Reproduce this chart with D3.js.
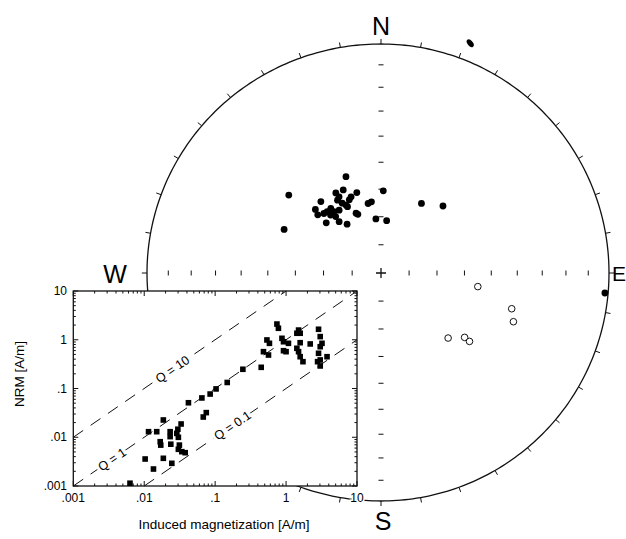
<!DOCTYPE html>
<html>
<head>
<meta charset="utf-8">
<script src="https://cdn.jsdelivr.net/npm/d3@7"></script>
<style>
body { margin: 0; background: #fff; }
svg { display: block; font-family: "Liberation Sans", Arial, sans-serif; }
</style>
</head>
<body>
<svg id="chart" width="626" height="539"></svg>
<script>
// stereonet directions, lower hemisphere (filled dots)
var lowerDec = [340.4, 310.8, 294.7, 1.6, 30.3, 42.9, 354.7, 6.2, 349.7, 352.5, 343.6, 331.1,
                320.5, 314.7, 313.2, 313.1, 321.4, 325.8, 337.8, 338.9, 339, 337, 331.7, 329.7,
                333.2, 333.7, 322.7, 319.3, 323.1, 319.6, 321.8, 316.8, 326.9, 331.5, 336, 95.1];
var lowerInc = [53.2, 46.8, 52.4, 60.6, 61.2, 57.2, 70.7, 71.3, 64.8, 64.4, 60.0, 57.2,
                56.8, 57.6, 59.6, 63.8, 66.6, 69.0, 67.0, 67.6, 60.8, 61.6, 59.0, 59.8,
                62.8, 63.6, 61.0, 61.1, 62.6, 62.8, 64.4, 60.8, 63.2, 61.6, 57.4, 1.6];
// upper hemisphere (open circles)
var upperDec = [98.0, 105.3, 110.2, 134.1, 127.6, 127.7];
var upperInc = [-54.7, -40.3, -38.1, -56.3, -51.8, -49.4];
// stray mark just outside the primitive circle
var strayDec = [21.3];
var strayR = [1.077];

var compass = ["N", "E", "S", "W"];

// inset: NRM vs induced magnetization [A/m]
var induced = [0.743, 0.78, 1.50, 1.58, 1.42, 2.87, 0.537, 0.583, 0.875, 0.92,
               1.08, 1.58, 2.19, 3.03, 3.21, 3.03, 0.48, 0.565, 0.92, 1.0,
               1.42, 1.50, 1.58, 1.73, 2.87, 3.03, 2.78, 3.78, 3.03,
               0.246, 0.446, 0.148, 0.103, 0.085, 0.065, 0.042, 0.075, 0.068,
               0.0186, 0.0115, 0.015, 0.0331, 0.0298, 0.0232, 0.0232, 0.0288, 0.0303, 0.0168,
               0.0171, 0.0237, 0.0313, 0.0303, 0.0339, 0.0378, 0.0103, 0.0186, 0.0245, 0.0135, 0.0063];
var nrm = [2.10, 1.72, 1.58, 1.36, 1.36, 1.64, 0.99, 0.845, 1.07, 0.91,
           0.845, 0.87, 0.82, 1.16, 0.845, 0.72, 0.569, 0.486, 0.596, 0.569,
           0.668, 0.569, 0.449, 0.355, 0.527, 0.385, 0.355, 0.449, 0.29,
           0.248, 0.272, 0.133, 0.098, 0.077, 0.064, 0.051, 0.032, 0.026,
           0.0226, 0.013, 0.013, 0.0187, 0.0146, 0.013, 0.0103, 0.012, 0.00997, 0.0081,
           0.0069, 0.0072, 0.0069, 0.00566, 0.00506, 0.00482, 0.00358, 0.0037, 0.00292, 0.00223, 0.00114];
var qValues = [10, 1, 0.1];
var qLabels = ["Q = 10", "Q = 1", "Q = 0.1"];
var qLabelAt = [0.025, 0.0035, 0.175];
var decadeTicks = [0.001, 0.01, 0.1, 1, 10];
var decadeLabels = [".001", ".01", ".1", "1", "10"];

var svg = d3.select("#chart");
var rad = Math.PI / 180;

// projected unit disc -> page
var sx = d3.scaleLinear().domain([-1, 0, 1]).range([147, 381, 609]);
var sy = d3.scaleLinear().domain([-1, 0, 1]).range([501, 273, 44]);

//equal-area (Schmidt) projection
function eqArea(dec, inc) {
    var r = Math.SQRT2 * Math.sin((90 - Math.abs(inc)) / 2 * rad);
    return [r * Math.sin(dec * rad), r * Math.cos(dec * rad)];
}
function proj(p) { return [sx(p[0]), sy(p[1])]; }

var net = svg.append("g");

// primitive circle
var circlePts = d3.range(0, 361, 1).map(function(a) {
    return proj([Math.sin(a * rad), Math.cos(a * rad)]);
});
net.append("path")
    .attr("d", d3.line()(circlePts))
    .attr("fill", "none")
    .attr("stroke", "#111")
    .attr("stroke-width", 1.3);

// ticks every 10 degrees on the circle, pointing out
net.selectAll(".ctick")
    .data(d3.range(0, 360, 10))
    .enter()
    .append("line")
    .attr("x1", function(a) { return sx(Math.sin(a * rad)); })
    .attr("y1", function(a) { return sy(Math.cos(a * rad)); })
    .attr("x2", function(a) { return sx(1.022 * Math.sin(a * rad)); })
    .attr("y2", function(a) { return sy(1.022 * Math.cos(a * rad)); })
    .attr("stroke", "#111")
    .attr("stroke-width", 1);

// inclination ticks along the N-S and E-W diameters
var axisTicks = [];
[0, 90, 180, 270].forEach(function(az) {
    d3.range(10, 90, 10).forEach(function(inc) {
        axisTicks.push({ az: az, p: proj(eqArea(az, inc)) });
    });
});
net.selectAll(".atick")
    .data(axisTicks)
    .enter()
    .append("line")
    .attr("x1", function(d) { return d.az % 180 === 0 ? d.p[0] - 2.5 : d.p[0]; })
    .attr("x2", function(d) { return d.az % 180 === 0 ? d.p[0] + 2.5 : d.p[0]; })
    .attr("y1", function(d) { return d.az % 180 === 0 ? d.p[1] : d.p[1] - 2.5; })
    .attr("y2", function(d) { return d.az % 180 === 0 ? d.p[1] : d.p[1] + 2.5; })
    .attr("stroke", "#111")
    .attr("stroke-width", 1);

// centre cross
net.append("path")
    .attr("d", "M" + (sx(0) - 5) + "," + sy(0) + "H" + (sx(0) + 5) +
               "M" + sx(0) + "," + (sy(0) - 5) + "V" + (sy(0) + 5))
    .attr("stroke", "#111")
    .attr("stroke-width", 1.3);

// compass letters
var compassPos = [[381, 35, "middle", 25], [612, 281, "start", 21], [383, 530, "middle", 25], [115, 283, "middle", 25]];
net.selectAll(".compass")
    .data(compass)
    .enter()
    .append("text")
    .attr("x", function(d, i) { return compassPos[i][0]; })
    .attr("y", function(d, i) { return compassPos[i][1]; })
    .attr("text-anchor", function(d, i) { return compassPos[i][2]; })
    .style("font-size", function(d, i) { return compassPos[i][3] + "px"; })
    .attr("fill", "#000")
    .text(function(d) { return d; });

// lower hemisphere points
net.selectAll(".low")
    .data(lowerDec)
    .enter()
    .append("circle")
    .attr("cx", function(d, i) { return proj(eqArea(d, lowerInc[i]))[0]; })
    .attr("cy", function(d, i) { return proj(eqArea(d, lowerInc[i]))[1]; })
    .attr("r", 3.4)
    .attr("fill", "#000");

// upper hemisphere points
net.selectAll(".up")
    .data(upperDec)
    .enter()
    .append("circle")
    .attr("cx", function(d, i) { return proj(eqArea(d, upperInc[i]))[0]; })
    .attr("cy", function(d, i) { return proj(eqArea(d, upperInc[i]))[1]; })
    .attr("r", 3.3)
    .attr("fill", "#fff")
    .attr("stroke", "#111")
    .attr("stroke-width", 1);

net.selectAll(".stray")
    .data(strayDec)
    .enter()
    .append("ellipse")
    .attr("transform", function(d, i) {
        var p = proj([strayR[i] * Math.sin(d * rad), strayR[i] * Math.cos(d * rad)]);
        return "translate(" + p[0] + "," + p[1] + ") rotate(50)";
    })
    .attr("rx", 4.5)
    .attr("ry", 2.6)
    .attr("fill", "#000");

// ---- inset ----
var xL = d3.scaleLog().domain([0.001, 10]).range([73.3, 357]);
var yL = d3.scaleLog().domain([0.001, 10]).range([486, 291]);

var inset = svg.append("g");
inset.append("rect")
    .attr("x", xL.range()[0])
    .attr("y", yL.range()[1])
    .attr("width", xL.range()[1] - xL.range()[0])
    .attr("height", yL.range()[0] - yL.range()[1])
    .attr("fill", "#fff")
    .attr("stroke", "#111")
    .attr("stroke-width", 1.3);

// log ticks, inward on all sides
var logTicks = [];
decadeTicks.slice(0, 4).forEach(function(d) {
    d3.range(1, 10).forEach(function(k) { logTicks.push({ v: d * k, major: k === 1 }); });
});
logTicks.push({ v: 10, major: true });

function tickLen(d) { return d.major ? 5 : 2.5; }
var x0 = xL.range()[0], x1 = xL.range()[1], y0 = yL.range()[0], y1 = yL.range()[1];
var tickPaths = logTicks.map(function(d) {
    var x = xL(d.v), y = yL(d.v), L = tickLen(d);
    return "M" + x + "," + y0 + "V" + (y0 - L) +
           "M" + x + "," + y1 + "V" + (y1 + L) +
           "M" + x0 + "," + y + "H" + (x0 + L) +
           "M" + x1 + "," + y + "H" + (x1 - L);
});
inset.append("path")
    .attr("d", tickPaths.join(""))
    .attr("stroke", "#111")
    .attr("stroke-width", 1)
    .attr("fill", "none");

// Q lines
inset.selectAll(".qline")
    .data(qValues)
    .enter()
    .append("path")
    .attr("d", function(q) {
        var a = Math.max(0.001, 0.001 / q), b = Math.min(10, 10 / q);
        return d3.line()([[xL(a), yL(q * a)], [xL(b), yL(q * b)]]);
    })
    .attr("stroke", "#111")
    .attr("stroke-width", 1)
    .attr("stroke-dasharray", "12,9")
    .attr("fill", "none");

var slopeDeg = Math.atan2(yL(10) - yL(1), xL(10) - xL(1)) / rad;
inset.selectAll(".qlab")
    .data(qValues)
    .enter()
    .append("text")
    .attr("transform", function(q, i) {
        var v = qLabelAt[i];
        return "translate(" + xL(v) + "," + yL(q * v) + ") rotate(" + slopeDeg + ")";
    })
    .attr("text-anchor", "middle")
    .attr("dy", "0.35em")
    .style("font-size", "12.5px")
    .attr("fill", "#000")
    .attr("stroke", "#fff")
    .attr("stroke-width", 6)
    .attr("paint-order", "stroke")
    .text(function(q, i) { return qLabels[i]; });

// data squares
inset.selectAll(".sq")
    .data(induced)
    .enter()
    .append("rect")
    .attr("x", function(d) { return xL(d) - 2.8; })
    .attr("y", function(d, i) { return yL(nrm[i]) - 2.8; })
    .attr("width", 5.6)
    .attr("height", 5.6)
    .attr("fill", "#000");

// tick labels
inset.selectAll(".xlab")
    .data(decadeTicks)
    .enter()
    .append("text")
    .attr("x", function(d) { return xL(d); })
    .attr("y", 502)
    .attr("text-anchor", "middle")
    .style("font-size", "12px")
    .attr("fill", "#000")
    .attr("stroke", "#fff")
    .attr("stroke-width", 3)
    .attr("paint-order", "stroke")
    .text(function(d, i) { return decadeLabels[i]; });

inset.selectAll(".ylab")
    .data(decadeTicks)
    .enter()
    .append("text")
    .attr("x", 67)
    .attr("y", function(d) { return yL(d); })
    .attr("dy", "0.35em")
    .attr("text-anchor", "end")
    .style("font-size", "12px")
    .attr("fill", "#000")
    .text(function(d, i) { return decadeLabels[i]; });

inset.append("text")
    .attr("x", 224)
    .attr("y", 529)
    .attr("text-anchor", "middle")
    .style("font-size", "13.5px")
    .attr("fill", "#000")
    .text("Induced magnetization [A/m]");

inset.append("text")
    .attr("transform", "translate(24,374) rotate(-90)")
    .attr("text-anchor", "middle")
    .style("font-size", "13.5px")
    .attr("fill", "#000")
    .text("NRM [A/m]");
</script>
</body>
</html>
